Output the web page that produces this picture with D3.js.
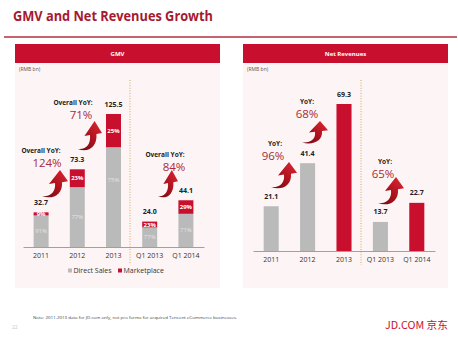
<!DOCTYPE html>
<html><head><meta charset="utf-8">
<script src="https://cdn.jsdelivr.net/npm/d3@7"></script>
<style>
html,body{margin:0;padding:0;background:#fff;}
svg{display:block;font-family:"Open Sans","Lato",sans-serif;}
</style></head>
<body>
<svg id="c" width="458" height="350"></svg>
<script>
const categories = ["2011","2012","2013","Q1 2013","Q1 2014"];
const gmvTotal = [32.7, 73.3, 125.5, 24.0, 44.1];
const gmvDirectPct = [91, 77, 75, 77, 71];
const gmvMarketPct = [9, 23, 25, 23, 29];
const gmvYoY = ["124%", "71%", "84%"];
const netRevenue = [21.1, 41.4, 69.3, 13.7, 22.7];
const netHighlight = [false, false, true, false, true];
const netYoY = ["96%", "68%", "65%"];
const legendLabels = ["Direct Sales", "Marketplace"];

const RED = "#c8102e", GRAY = "#bababa", PCT = "#a82a3c";
const svg = d3.select("#c");

// gradient for arrows
const defs = svg.append("defs");
const g = defs.append("linearGradient").attr("id","arrowGrad")
  .attr("x1","0").attr("y1","1").attr("x2","1").attr("y2","0");
g.append("stop").attr("offset","0").attr("stop-color","#6a0a12");
g.append("stop").attr("offset","0.5").attr("stop-color","#b0121f");
g.append("stop").attr("offset","1").attr("stop-color","#e02a35");

// Title
svg.append("text").attr("x",13).attr("y",21).attr("fill","#a6192e")
  .attr("font-size",14.5).attr("font-weight","bold")
  .attr("textLength",200).attr("lengthAdjust","spacingAndGlyphs")
  .text("GMV and Net Revenues Growth");
svg.append("line").attr("x1",4).attr("x2",457).attr("y1",37).attr("y2",37)
  .attr("stroke","#b3303e").attr("stroke-width",1.4);

function panel(x0, title){
  svg.append("rect").attr("x",x0).attr("y",63).attr("width",205).attr("height",225).attr("fill","#fdf5f5");
  svg.append("rect").attr("x",x0).attr("y",44).attr("width",205).attr("height",19).attr("fill",RED);
  svg.append("text").attr("x",x0+102.5).attr("y",55.5).attr("text-anchor","middle")
    .attr("fill","#fff").attr("font-size",6).attr("font-weight","bold").text(title);
  svg.append("text").attr("x",x0+4).attr("y",71).attr("fill","#555").attr("font-size",5).text("(RMB bn)");
}
panel(15,"GMV");
panel(243,"Net Revenues");

function arrow(x, y, w, h){
  const p = "M0,28 C9,29 14,23 13,14 L7,15 L18,0 L26,12 L20,13 C21,26 11,32 0,28 Z";
  svg.append("path").attr("d",p).attr("fill","url(#arrowGrad)")
    .attr("transform",`translate(${x},${y}) scale(${w/26},${h/30})`);
}
function yoyLabel(cx, y, head, pct, pctDx){
  svg.append("text").attr("x",cx).attr("y",y).attr("text-anchor","middle")
    .attr("font-size",6.5).attr("font-weight","bold").attr("fill","#222").text(head);
  svg.append("text").attr("x",cx+(pctDx||0)).attr("y",y+14).attr("text-anchor","middle")
    .attr("font-size",11.5).attr("fill",PCT).text(pct);
}

// ---------- GMV chart ----------
const xG = d3.scaleBand().domain(categories).range([23,204]).paddingInner(0.586).paddingOuter(0.293);
const yG = d3.scaleLinear().domain([0,125.5]).range([247,114]);
const gmvData = categories.map((c,i)=>({c, total:gmvTotal[i], d:gmvDirectPct[i], m:gmvMarketPct[i]}));

svg.append("line").attr("x1",130).attr("x2",130).attr("y1",80).attr("y2",263)
  .attr("stroke","#d6a35c").attr("stroke-width",1).attr("stroke-dasharray","1,1.6");

const gg = svg.append("g");
gg.selectAll("rect.d").data(gmvData).join("rect").attr("class","d")
  .attr("x",d=>xG(d.c)).attr("width",xG.bandwidth())
  .attr("y",d=>yG(d.total*d.d/100)).attr("height",d=>yG(0)-yG(d.total*d.d/100)).attr("fill",GRAY);
gg.selectAll("rect.m").data(gmvData).join("rect").attr("class","m")
  .attr("x",d=>xG(d.c)).attr("width",xG.bandwidth())
  .attr("y",d=>yG(d.total)).attr("height",d=>yG(d.total*d.d/100)-yG(d.total)).attr("fill",RED);
gg.selectAll("text.v").data(gmvData).join("text").attr("class","v")
  .attr("x",d=>xG(d.c)+xG.bandwidth()/2).attr("y",d=>yG(d.total)-7.5)
  .attr("text-anchor","middle").attr("font-size",7).attr("font-weight","bold").attr("fill","#222")
  .text(d=>d.total.toFixed(1));
gg.selectAll("text.dp").data(gmvData).join("text").attr("class","dp")
  .attr("x",d=>xG(d.c)+xG.bandwidth()/2)
  .attr("y",d=>{const top=yG(d.total*d.d/100), ctr=(top+yG(0))/2; return Math.min(ctr, top+33)+2;})
  .attr("text-anchor","middle").attr("font-size",6).attr("fill","#e4e4e4").text(d=>d.d+"%");
gg.selectAll("text.mp").data(gmvData).join("text").attr("class","mp")
  .attr("x",d=>xG(d.c)+xG.bandwidth()/2)
  .attr("y",d=>(yG(d.total)+yG(d.total*d.d/100))/2+2.2)
  .attr("text-anchor","middle").attr("font-size",6).attr("font-weight","bold").attr("fill","#fff").text(d=>d.m+"%");

const axG = svg.append("g").attr("transform","translate(0,247)")
  .call(d3.axisBottom(xG).tickSize(0).tickPadding(6));
axG.select(".domain").attr("stroke","#a0a0a0");
axG.selectAll("text").attr("font-size",7).attr("fill","#333").attr("font-family","\"Open Sans\",Lato,sans-serif");

// legend
const leg = svg.append("g").attr("font-size",7).attr("fill","#333");
[[68,GRAY,legendLabels[0]],[118,RED,legendLabels[1]]].forEach(([x,c,t])=>{
  leg.append("rect").attr("x",x).attr("y",268.5).attr("width",4).attr("height",4).attr("fill",c);
  leg.append("text").attr("x",x+5.5).attr("y",273).attr("fill","#333").text(t);
});

yoyLabel(41,153,"Overall YoY:",gmvYoY[0],6);
yoyLabel(73,105,"Overall YoY:",gmvYoY[1],8);
yoyLabel(165,157,"Overall YoY:",gmvYoY[2],9);
arrow(42,170,26,28);
arrow(78,121,24,30);
arrow(158,170,20,28);

// ---------- Net Revenues chart ----------
const xN = d3.scaleBand().domain(categories).range([253,435]).paddingInner(0.586).paddingOuter(0.293);
const yN = d3.scaleLinear().domain([0,69.3]).range([251,104]);
const netData = categories.map((c,i)=>({c, v:netRevenue[i], hi:netHighlight[i]}));

svg.append("line").attr("x1",361).attr("x2",361).attr("y1",80).attr("y2",265)
  .attr("stroke","#d6a35c").attr("stroke-width",1).attr("stroke-dasharray","1,1.6");

const gn = svg.append("g");
gn.selectAll("rect").data(netData).join("rect")
  .attr("x",d=>xN(d.c)).attr("width",xN.bandwidth())
  .attr("y",d=>yN(d.v)).attr("height",d=>yN(0)-yN(d.v)).attr("fill",d=>d.hi?RED:GRAY);
gn.selectAll("text").data(netData).join("text")
  .attr("x",d=>xN(d.c)+xN.bandwidth()/2).attr("y",d=>yN(d.v)-7.5)
  .attr("text-anchor","middle").attr("font-size",7).attr("font-weight","bold").attr("fill","#222")
  .text(d=>d.v.toFixed(1));
const axN = svg.append("g").attr("transform","translate(0,251)")
  .call(d3.axisBottom(xN).tickSize(0).tickPadding(6));
axN.select(".domain").attr("stroke","#a0a0a0");
axN.selectAll("text").attr("font-size",7).attr("fill","#333").attr("font-family","\"Open Sans\",Lato,sans-serif");

yoyLabel(275,146,"YoY:",netYoY[0],-2);
yoyLabel(307,104,"YoY:",netYoY[1],0);
yoyLabel(385,164,"YoY:",netYoY[2],-2);
arrow(271,162,26,27);
arrow(302,121,26,23);
arrow(378,177,26,28);

// footer
svg.append("text").attr("x",33).attr("y",318.5).attr("font-size",4).attr("fill","#444")
  .attr("textLength",204).attr("lengthAdjust","spacingAndGlyphs")
  .text("Note: 2011-2013 data for JD.com only, not pro forma for acquired Tencent eCommerce businesses.");
svg.append("text").attr("x",12).attr("y",329).attr("font-size",5).attr("fill","#c8c8c8").text("22");
svg.append("text").attr("x",385).attr("y",329).attr("font-size",10.5).attr("fill",RED)
  .attr("textLength",63).attr("lengthAdjust","spacingAndGlyphs")
  .attr("font-family","\"Noto Sans CJK SC\",\"Open Sans\",sans-serif").text("JD.COM 京东");
</script>
</body></html>
